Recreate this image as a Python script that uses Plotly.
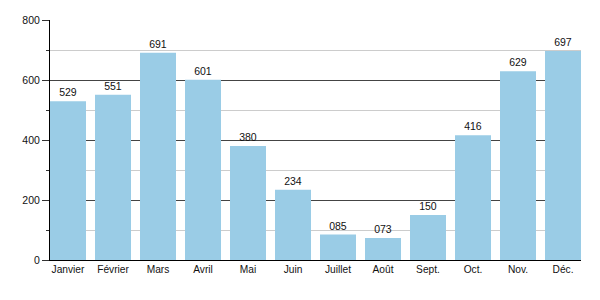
import plotly.graph_objects as go

months = ["Janvier", "Février", "Mars", "Avril", "Mai", "Juin", "Juillet", "Août", "Sept.", "Oct.", "Nov.", "Déc."]
values = [529, 551, 691, 601, 380, 234, 85, 73, 150, 416, 629, 697]

fig = go.Figure(go.Bar(
    x=months, y=values,
    marker=dict(color="#9acce6", line=dict(width=0)),
    texttemplate="%{y:03d}", textposition="outside",
    textfont=dict(family="Liberation Sans, Arial, sans-serif", size=10.5, color="#111"),
    cliponaxis=False,
))

fig.update_layout(
    width=600, height=300,
    margin=dict(l=50, r=19, t=20, b=40),
    plot_bgcolor="white", paper_bgcolor="white",
    bargap=0.2,
    showlegend=False,
    font=dict(family="Liberation Sans, Arial, sans-serif", size=10.5, color="#111"),
    xaxis=dict(
        range=[-0.4, 11.4], showline=True, linecolor="black", linewidth=1,
        ticks="", showgrid=False, tickfont=dict(size=10.2),
    ),
    yaxis=dict(
        range=[0, 800], dtick=200, showline=True, linecolor="black", linewidth=1,
        ticks="outside", ticklen=7, tickcolor="#333", tickwidth=1,
        showgrid=True, gridcolor="#444", gridwidth=1, zeroline=False,
        tickfont=dict(size=10.5),
        minor=dict(dtick=100, showgrid=True, gridcolor="#cccccc", gridwidth=1,
                   ticks="outside", ticklen=3, tickcolor="#333"),
    ),
)

fig.write_html("out.html")
